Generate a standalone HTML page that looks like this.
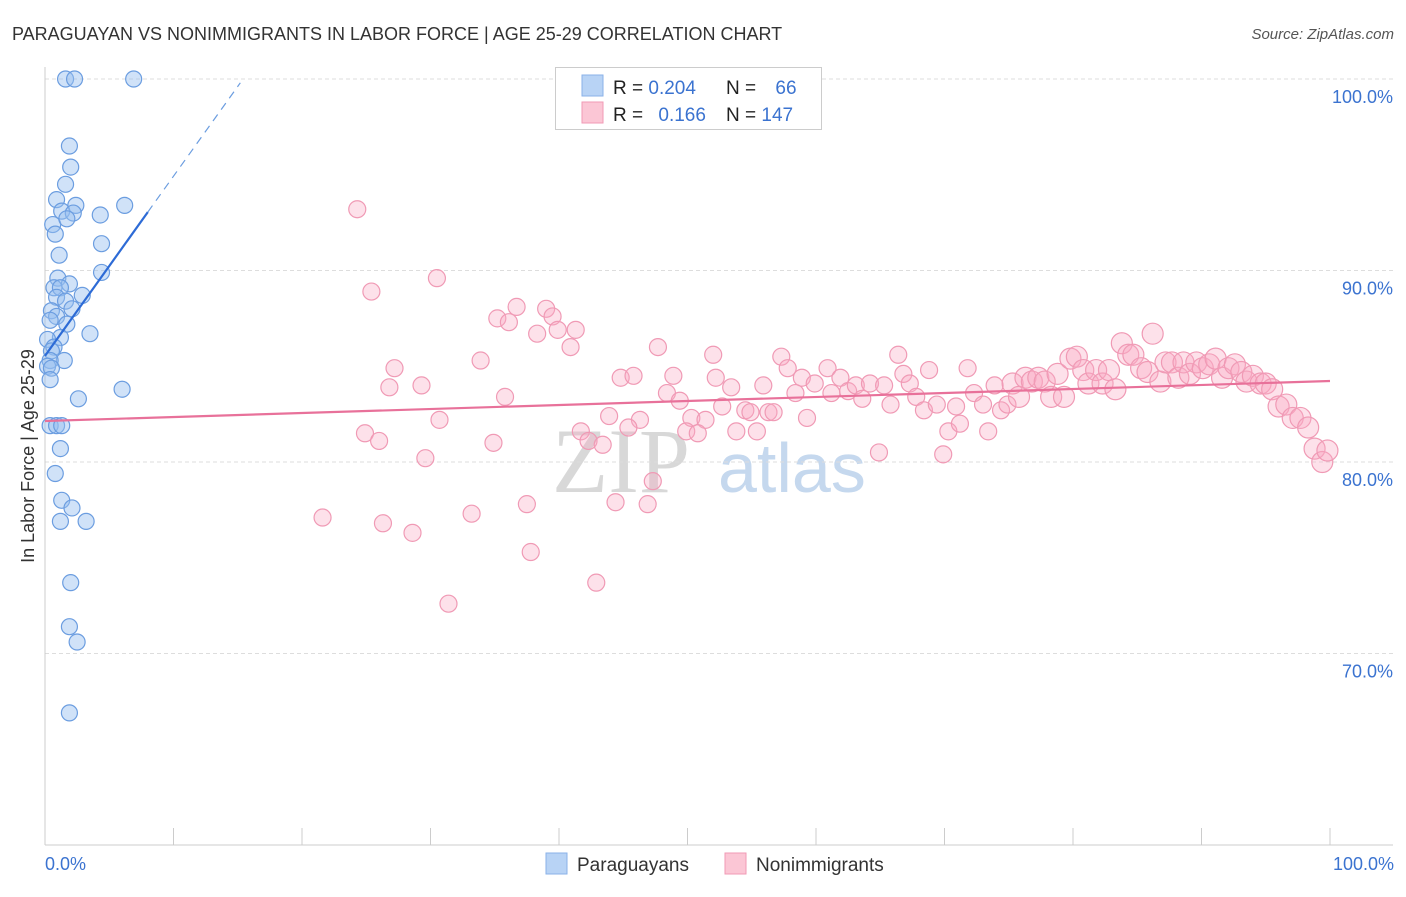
<!DOCTYPE html>
<html><head><meta charset="utf-8"><style>
body{margin:0;background:#fff;font-family:"Liberation Sans",sans-serif;}
#wrap{position:relative;width:1406px;height:892px;}
</style></head><body>
<div id="wrap">
<svg id="chart" width="1406" height="892" xmlns="http://www.w3.org/2000/svg">
<text x="12" y="40" font-size="18" fill="#333">PARAGUAYAN VS NONIMMIGRANTS IN LABOR FORCE | AGE 25-29 CORRELATION CHART</text>
<text x="1394" y="39" font-size="15" fill="#555" text-anchor="end" font-style="italic">Source: ZipAtlas.com</text>
<g>
<text x="552" y="492" font-size="92" fill="#d8d8d8" font-family="Liberation Serif,serif">ZIP</text>
<text x="718" y="492" font-size="70" fill="#c5d8ee">atlas</text>
</g>
<g id="grid"></g>
<g id="axes"></g>
<g id="pts"></g>
<g id="trend"></g>
<text transform="translate(34,456) rotate(-90)" font-size="18" fill="#333" text-anchor="middle">In Labor Force | Age 25-29</text>
<text x="45" y="870" font-size="18" fill="#3b73d0">0.0%</text>
<text x="1394" y="870" font-size="18" fill="#3b73d0" text-anchor="end">100.0%</text>
<g>
<rect x="555.5" y="67.5" width="266" height="62" fill="#fff" stroke="#ccc"/>
<rect x="582" y="75" width="21" height="21" fill="#b8d3f5" stroke="#8ab2e8"/>
<rect x="582" y="102" width="21" height="21" fill="#fbc6d5" stroke="#f09ab5"/>
<text x="613" y="94" font-size="19" fill="#222">R = <tspan fill="#3b73d0">0.204</tspan></text>
<text x="726" y="94" font-size="19" fill="#222">N = <tspan fill="#3b73d0" dx="14">66</tspan></text>
<text x="613" y="121" font-size="19" fill="#222">R = <tspan fill="#3b73d0" dx="10">0.166</tspan></text>
<text x="726" y="121" font-size="19" fill="#222">N = <tspan fill="#3b73d0">147</tspan></text>
</g>
<g>
<rect x="546" y="853" width="21" height="21" fill="#b8d3f5" stroke="#8ab2e8"/>
<text x="577" y="871" font-size="19" fill="#333">Paraguayans</text>
<rect x="725" y="853" width="21" height="21" fill="#fbc6d5" stroke="#f09ab5"/>
<text x="756" y="871" font-size="19" fill="#333">Nonimmigrants</text>
</g>
</svg>
</div>
<script>
const yTicks=[100,90,80,70];
const yTickLabels=["100.0%","90.0%","80.0%","70.0%"];
const xTicks=[0,10,20,30,40,50,60,70,80,90,100];
const blueX=[1.6,2.3,6.9,1.9,2.0,1.6,0.9,2.4,1.3,2.2,4.3,6.2,0.6,1.7,0.8,4.4,1.1,1.0,4.4,1.9,0.7,1.2,0.9,2.9,1.6,2.1,0.5,0.9,1.7,0.4,3.5,1.2,0.2,0.7,0.5,1.5,0.4,0.2,0.5,0.4,2.6,6.0,0.4,0.9,1.3,1.2,0.8,1.3,2.1,1.2,3.2,2.0,1.9,2.5,1.9];
const blueY=[100,100,100,96.5,95.4,94.5,93.7,93.4,93.1,93.0,92.9,93.4,92.4,92.7,91.9,91.4,90.8,89.6,89.9,89.3,89.1,89.1,88.6,88.7,88.4,88.0,87.9,87.6,87.2,87.4,86.7,86.5,86.4,86.0,85.8,85.3,85.3,85.0,84.9,84.3,83.3,83.8,81.9,81.9,81.9,80.7,79.4,78.0,77.6,76.9,76.9,73.7,71.4,70.6,66.9];
const pinkX=[24.3,30.5,25.4,36.7,39.0,35.2,36.1,39.5,38.3,39.9,41.3,40.9,47.7,33.9,27.2,26.8,29.3,35.8,44.8,45.8,48.9,48.4,52.0,52.2,53.4,49.4,50.3,51.4,46.3,43.9,45.4,41.7,42.3,43.4,49.9,50.8,52.7,54.5,54.9,56.3,56.7,53.8,55.4,30.7,24.9,26.0,34.9,29.6,21.6,26.3,28.6,33.2,37.5,44.4,46.9,47.3,37.8,42.9,31.4,55.9,57.3,57.8,58.9,58.4,59.3,59.9,60.9,61.2,61.9,62.5,63.1,63.6,64.2,64.9,65.3,65.8,66.4,66.8,67.3,67.8,68.4,68.8,69.4,69.9,70.3,70.9,71.2,71.8,72.3,73.0,73.4,73.9,74.4,74.9,75.3,75.8,76.3,76.8,77.3,77.8,78.3,78.8,79.3,79.8,80.3,80.8,81.2,81.8,82.3,82.8,83.3,83.8,84.3,84.7,85.3,85.8,86.2,86.8,87.2,87.7,88.2,88.6,89.1,89.6,90.1,90.6,91.1,91.6,92.1,92.6,93.1,93.5,94.0,94.6,95.0,95.5,96.0,96.6,97.1,97.7,98.3,98.8,99.4,99.8];
const pinkY=[93.2,89.6,88.9,88.1,88.0,87.5,87.3,87.6,86.7,86.9,86.9,86.0,86.0,85.3,84.9,83.9,84.0,83.4,84.4,84.5,84.5,83.6,85.6,84.4,83.9,83.2,82.3,82.2,82.2,82.4,81.8,81.6,81.1,80.9,81.6,81.5,82.9,82.7,82.6,82.6,82.6,81.6,81.6,82.2,81.5,81.1,81.0,80.2,77.1,76.8,76.3,77.3,77.8,77.9,77.8,79.0,75.3,73.7,72.6,84.0,85.5,84.9,84.4,83.6,82.3,84.1,84.9,83.6,84.4,83.7,84.0,83.3,84.1,80.5,84.0,83.0,85.6,84.6,84.1,83.4,82.7,84.8,83.0,80.4,81.6,82.9,82.0,84.9,83.6,83.0,81.6,84.0,82.7,83.0,84.1,83.4,84.4,84.2,84.4,84.2,83.4,84.6,83.4,85.4,85.5,84.8,84.1,84.8,84.1,84.8,83.8,86.2,85.6,85.6,84.9,84.7,86.7,84.2,85.2,85.2,84.4,85.2,84.6,85.2,84.9,85.1,85.4,84.4,84.9,85.1,84.7,84.2,84.5,84.1,84.1,83.8,82.9,83.0,82.3,82.3,81.8,80.7,80.0,80.6];
const blueTrend=[85.54,93.05,99.8];
const blueTrendX=[0,8.0,15.2];
const pinkTrend=[82.14,84.23];
const pinkTrendX=[0,100];

const X0=45,X1=1330,Y100=79,PPY=19.15;
const sx=v=>X0+(X1-X0)*v/100;
const sy=v=>Y100+(100-v)*PPY;
const NS="http://www.w3.org/2000/svg";
function mk(parent,tag,attrs){const e=document.createElementNS(NS,tag);for(const k in attrs)e.setAttribute(k,attrs[k]);document.getElementById(parent).appendChild(e);return e;}

yTicks.forEach((t,i)=>{
  const l=mk('grid','line',{x1:X0,x2:1393,y1:sy(t),y2:sy(t),stroke:'#ddd','stroke-dasharray':'4,3'});
  
  
  const tx=mk('grid','text',{x:1393,y:sy(t)+24,'font-size':18,fill:'#3b73d0','text-anchor':'end'});
  tx.textContent=yTickLabels[i];
  
  
});
let a=mk('axes','line',{x1:X0,x2:X0,y1:67,y2:845,stroke:'#ccc'});


a=mk('axes','line',{x1:X0,x2:1393,y1:845,y2:845,stroke:'#ccc'});


xTicks.forEach(t=>{
  const l=mk('axes','line',{x1:sx(t),x2:sx(t),y1:828,y2:845,stroke:'#ccc'});
  
  
});
pinkX.forEach((x,i)=>{
  const r=x>75?10.5:8.5;
  const c=mk('pts','circle',{cx:sx(x),cy:sy(pinkY[i]),r:r,fill:'rgba(248,170,195,0.35)',stroke:'#f09ab5','stroke-width':1.2});
  
  
});
blueX.forEach((x,i)=>{
  const c=mk('pts','circle',{cx:sx(x),cy:sy(blueY[i]),r:8,fill:'rgba(150,190,240,0.45)',stroke:'#6b9de0','stroke-width':1.2});
  
  
});
let t=mk('trend','line',{x1:sx(pinkTrendX[0]),y1:sy(pinkTrend[0]),x2:sx(pinkTrendX[1]),y2:sy(pinkTrend[1]),stroke:'#e8719a','stroke-width':2.2});


t=mk('trend','line',{x1:sx(blueTrendX[0]),y1:sy(blueTrend[0]),x2:sx(blueTrendX[1]),y2:sy(blueTrend[1]),stroke:'#2d6bd6','stroke-width':2.2});


t=mk('trend','line',{x1:sx(blueTrendX[1]),y1:sy(blueTrend[1]),x2:sx(blueTrendX[2]),y2:sy(blueTrend[2]),stroke:'#6b9de0','stroke-width':1.2,'stroke-dasharray':'8,6'});


</script>
</body></html>
